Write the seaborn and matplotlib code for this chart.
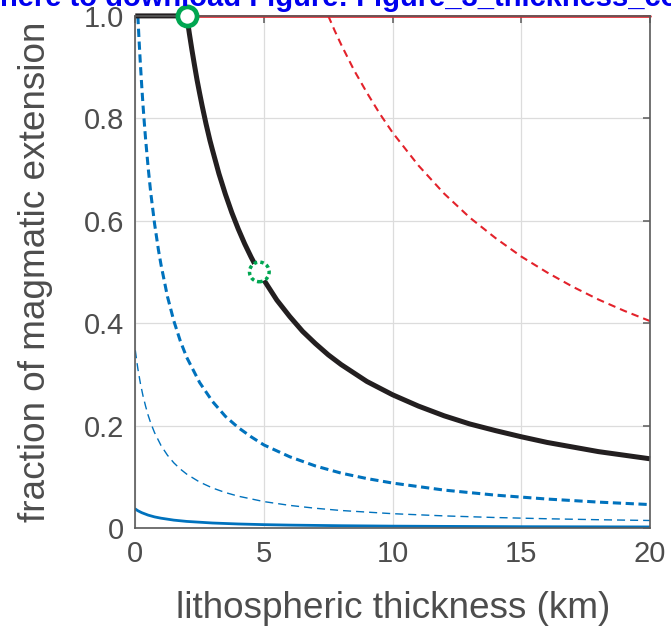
import matplotlib
matplotlib.use("Agg")
import matplotlib.pyplot as plt
import seaborn as sns

# ---------------- data ----------------
black_x = [0, 2, 2.1, 2.2, 2.3, 2.4, 2.5, 2.6, 2.75, 2.9, 3, 3.25, 3.5, 3.75,
           4, 4.25, 4.5, 4.75, 5, 5.5, 6, 6.5, 7, 7.5, 8, 9, 10, 11, 12, 13,
           14, 15, 16, 17, 18, 19, 20]
black_y = [1.0, 1.0, 0.966, 0.934, 0.904, 0.875, 0.849, 0.824, 0.789, 0.757,
           0.738, 0.692, 0.652, 0.616, 0.584, 0.555, 0.529, 0.505, 0.484,
           0.445, 0.413, 0.384, 0.360, 0.338, 0.319, 0.286, 0.260, 0.238,
           0.219, 0.203, 0.190, 0.178, 0.167, 0.158, 0.149, 0.142, 0.135]

red_solid_x = [2, 20]
red_solid_y = [1.0, 1.0]

red_dash_x = [7.5, 7.75, 8, 8.5, 9, 9.5, 10, 11, 12, 13, 14, 15, 16, 17, 18,
              19, 20]
red_dash_y = [1.0, 0.971, 0.944, 0.894, 0.850, 0.809, 0.772, 0.708, 0.653,
              0.606, 0.566, 0.530, 0.499, 0.471, 0.446, 0.424, 0.404]

blue_thick_x = [0.1, 0.15, 0.2, 0.25, 0.3, 0.35, 0.4, 0.5, 0.6, 0.75, 0.9, 1,
                1.25, 1.5, 1.75, 2, 2.5, 3, 3.5, 4, 4.5, 5, 6, 7, 8, 9, 10,
                12, 14, 16, 18, 20]
blue_thick_y = [1.0, 0.95, 0.905, 0.864, 0.826, 0.792, 0.760, 0.704, 0.655,
                0.594, 0.543, 0.514, 0.452, 0.404, 0.365, 0.333, 0.284, 0.247,
                0.218, 0.196, 0.178, 0.162, 0.139, 0.121, 0.107, 0.0964,
                0.0876, 0.0739, 0.064, 0.0564, 0.0504, 0.0456]

blue_thin_x = [0, 0.1, 0.2, 0.3, 0.4, 0.5, 0.6, 0.75, 0.9, 1, 1.25, 1.5, 1.75,
               2, 2.5, 3, 3.5, 4, 5, 6, 7, 8, 10, 12, 14, 16, 18, 20]
blue_thin_y = [0.347, 0.311, 0.282, 0.258, 0.238, 0.220, 0.205, 0.186, 0.171,
               0.161, 0.142, 0.127, 0.115, 0.105, 0.0896, 0.078, 0.0691, 0.062,
               0.0514, 0.044, 0.0384, 0.034, 0.0278, 0.0235, 0.0203, 0.0179,
               0.016, 0.0145]

blue_solid_x = [0, 0.1, 0.25, 0.5, 0.75, 1, 1.5, 2, 3, 4, 5, 6, 8, 10, 12, 15,
                20]
blue_solid_y = [0.037, 0.0336, 0.0298, 0.025, 0.0215, 0.019, 0.0152, 0.0127,
                0.0096, 0.0077, 0.0064, 0.0055, 0.0043, 0.0035, 0.003, 0.0024,
                0.0019]

marker_solid = ([2.0], [1.0])
marker_dashed = ([4.82], [0.5])

x_ticks = [0, 5, 10, 15, 20]
y_ticks = [0, 0.2, 0.4, 0.6, 0.8, 1.0]
y_tick_labels = ["0", "0.2", "0.4", "0.6", "0.8", "1.0"]
x_label = "lithospheric thickness (km)"
y_label = "fraction of magmatic extension"
banner = "here to download Figure: Figure_3_thickness_comparison.pdf"

# ---------------- style ----------------
sns.set_style("white")
plt.rcParams["font.family"] = ["Liberation Sans", "DejaVu Sans"]

BLUE = "#0072BD"
RED = "#E3222B"
BLACK = "#231F20"
GREEN = "#00A651"
TXT = "#4D4D4D"

fig = plt.figure(figsize=(6.71, 6.29), dpi=100)
ax = fig.add_axes([0.2016, 0.1607, 0.9687 - 0.2016, 0.9747 - 0.1607])

# blue curves
sns.lineplot(x=blue_solid_x, y=blue_solid_y, ax=ax, color=BLUE, linewidth=2.0,
             sort=False, estimator=None)
sns.lineplot(x=blue_thin_x, y=blue_thin_y, ax=ax, color=BLUE, linewidth=1.0,
             sort=False, estimator=None)
ax.lines[-1].set_dashes((5.8, 3.6))
sns.lineplot(x=blue_thick_x, y=blue_thick_y, ax=ax, color=BLUE, linewidth=2.2,
             sort=False, estimator=None)
ax.lines[-1].set_dashes((2.7, 1.5))
# red curves
sns.lineplot(x=red_dash_x, y=red_dash_y, ax=ax, color=RED, linewidth=1.5,
             sort=False, estimator=None)
ax.lines[-1].set_dashes((3.6, 2.4))
sns.lineplot(x=red_solid_x, y=red_solid_y, ax=ax, color=RED, linewidth=1.9,
             sort=False, estimator=None)
ax.lines[-1].set_clip_on(False)
# black curve
sns.lineplot(x=black_x, y=black_y, ax=ax, color=BLACK, linewidth=3.6,
             sort=False, estimator=None)
ax.lines[-1].set_clip_on(False)
ax.lines[-1].set_solid_capstyle("butt")
ax.lines[-1].set_solid_joinstyle("round")

# green markers
sns.scatterplot(x=marker_solid[0], y=marker_solid[1], ax=ax, s=190,
                facecolor="white", edgecolor=GREEN, linewidth=3.4,
                clip_on=False, zorder=5)
sns.scatterplot(x=marker_dashed[0], y=marker_dashed[1], ax=ax, s=200,
                facecolor="white", edgecolor=GREEN, linewidth=2.5,
                linestyle=(0, (1.0, 0.9)), clip_on=False, zorder=5)

ax.set_xlim(0, 20)
ax.set_ylim(0, 1)
ax.set_xticks(x_ticks)
ax.set_xticklabels([str(t) for t in x_ticks])
ax.set_yticks(y_ticks)
ax.set_yticklabels(y_tick_labels)
ax.grid(True, color="#DCDCDC", linewidth=0.9)
ax.set_axisbelow(True)
for s in ax.spines.values():
    s.set_visible(True)
    s.set_color("#5A5A5A")
    s.set_linewidth(1.2)
ax.tick_params(direction="in", length=5, width=1.1, color="#5A5A5A",
               labelsize=21, labelcolor=TXT, top=True, right=True)
ax.tick_params(axis="x", pad=9)
ax.tick_params(axis="y", pad=8)
ax.set_xlabel(x_label, fontsize=26.6, color=TXT, labelpad=16)
ax.set_ylabel(y_label, fontsize=26.6, color=TXT, labelpad=22)

fig.text(0.0, 1 - 6 / 629, banner, color="#0000EE", fontsize=21,
         fontweight="bold", ha="left", va="baseline")

fig.savefig("out.png", dpi=100)
